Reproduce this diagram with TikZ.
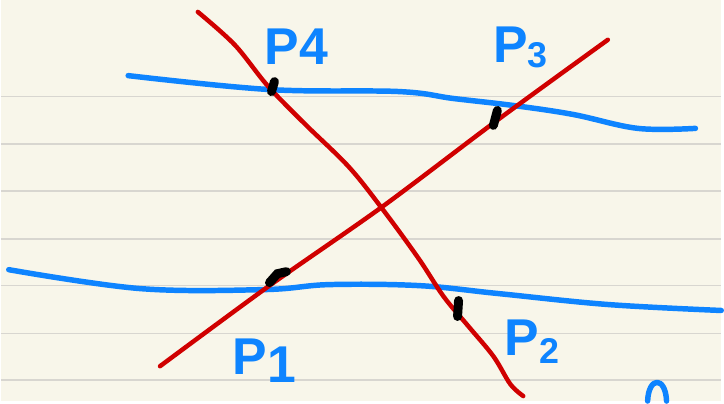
\documentclass[tikz,border=0pt]{standalone}
\usepackage{fontspec}
\setmainfont{Liberation Sans}
\usepackage{tikz}
\usetikzlibrary{positioning}
\definecolor{paper}{RGB}{248, 246, 234}
\definecolor{ruling}{RGB}{216, 214, 208}
\definecolor{penblue}{RGB}{14, 132, 255}
\definecolor{penred}{RGB}{208, 0, 0}

\tikzset{
  blueline/.style={penblue, line width=5.5pt, line cap=round, line join=round},
  redline/.style={penred, line width=4.5pt, line cap=round, line join=round},
  blob/.style={black, line width=9pt, line cap=round},
  plabel/.style={penblue, inner sep=0pt, font=\fontsize{52}{52}\selectfont}
}

\begin{document}
\begin{tikzpicture}[x=1pt, y=-1pt]

% Paper with its ruling
\fill[paper] (0,0) rectangle (724,403);
\foreach \y in {97,145,192,240,287,335,382} {
  \draw[ruling, line width=1.6pt] (0,\y) -- (724,\y);
}

% Two blue curves
\draw[blueline] plot[smooth, tension=0.6] coordinates
  {(128,76) (270,90) (400,92) (455,99) (515,106) (575,115) (640,129) (698,129)};
\draw[blueline] plot[smooth, tension=0.6] coordinates
  {(8,271) (140,290) (265,291) (330,286) (420,287) (500,295) (610,306) (724,312)};

% Two red lines crossing
\draw[redline] plot[smooth, tension=0.55] coordinates
  {(198,12) (235,45) (268,86) (305,124) (350,168) (385,212) (420,260) (445,298) (470,328) (495,358) (512,386) (525,398)};
\draw[redline] plot[smooth, tension=0.5] coordinates
  {(160,368) (270,287) (383,208) (500,120) (610,40)};

% Black marks at the crossings
\draw[blob] (272,92) -- (275,82);
\draw[blob] (495,126) -- (499,111);
\draw[blob] (270,284) -- (278,275) -- (287,273);
\draw[blob] (459,318) -- (460,302);

% Labels
\node[plabel] (p4) at (297,47) {\bfseries P4};
\node[plabel] (p3) at (522,48) {\bfseries P\raisebox{-5pt}{\fontsize{36}{36}\selectfont 3}};
\node[plabel] (p1) at (265,362) {\bfseries P\raisebox{-8pt}{1}};
\node[plabel] (p2) at (534,343) {\bfseries P\raisebox{-8pt}{\fontsize{36}{36}\selectfont 2}};

% Start of a further stroke, cut at the edge
\draw[blueline] (650,403) .. controls (651,378) and (668,378) .. (669,403);

\end{tikzpicture}
\end{document}
